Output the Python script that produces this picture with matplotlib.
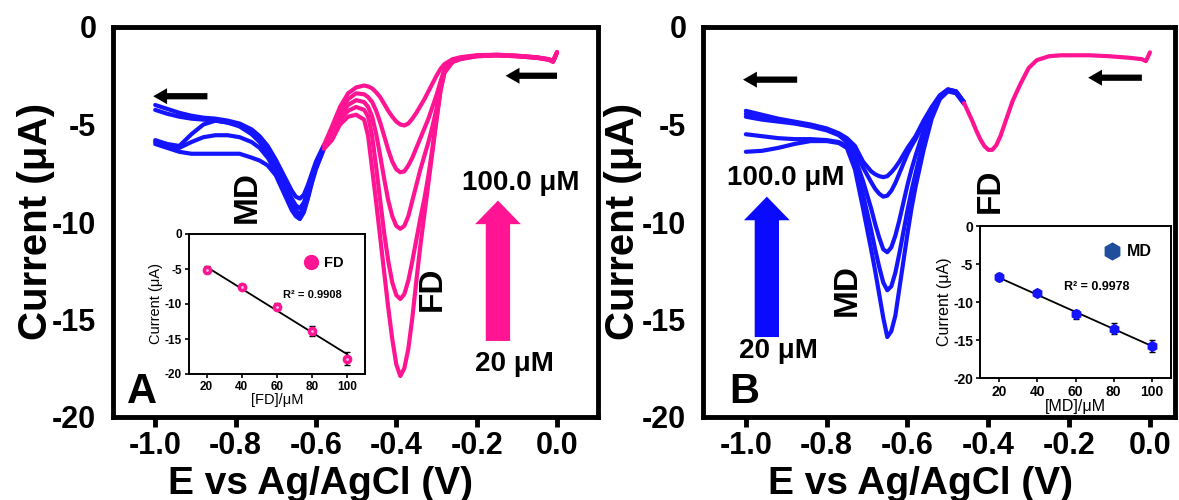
import matplotlib.pyplot as plt
from matplotlib.lines import Line2D

plt.rcParams['font.family'] = ['Liberation Sans', 'DejaVu Sans']
plt.rcParams['font.weight'] = 'bold'
plt.rcParams['axes.unicode_minus'] = False

PINK = '#FF1493'
BLUE = '#1414FF'

# ---- panel A: FD concentration series (MD part blue, FD part pink)
a_blue_x = [-1.00, -0.97, -0.94, -0.91, -0.88, -0.85, -0.82, -0.79, -0.76, -0.74, -0.72,
            -0.70, -0.68, -0.66, -0.65, -0.64, -0.63, -0.62, -0.61, -0.60, -0.58]
a_blue = [
    [-4.0, -4.2, -4.4, -4.55, -4.65, -4.7, -4.8, -4.95, -5.25, -5.6, -6.1, -6.8, -7.6, -8.4, -8.7, -8.8, -8.6, -8.1, -7.5, -6.9, -6.05],
    [-4.25, -4.45, -4.6, -4.7, -4.75, -4.8, -4.9, -5.05, -5.4, -5.75, -6.3, -7.0, -7.9, -8.8, -9.15, -9.3, -9.0, -8.4, -7.7, -7.0, -6.1],
    [-5.8, -6.0, -6.1, -5.5, -5.0, -4.8, -4.9, -5.1, -5.5, -5.9, -6.5, -7.2, -8.1, -9.0, -9.4, -9.6, -9.3, -8.6, -7.8, -7.1, -6.15],
    [-5.9, -6.1, -6.2, -5.9, -5.65, -5.55, -5.55, -5.65, -5.9, -6.2, -6.7, -7.4, -8.3, -9.2, -9.6, -9.75, -9.4, -8.7, -7.9, -7.2, -6.2],
    [-6.0, -6.2, -6.4, -6.5, -6.5, -6.5, -6.5, -6.5, -6.7, -6.85, -7.1, -7.6, -8.5, -9.4, -9.7, -9.85, -9.5, -8.8, -8.0, -7.3, -6.25],
]
a_pink_x = [-0.58, -0.56, -0.54, -0.52, -0.50, -0.48, -0.47, -0.46, -0.45, -0.44, -0.43, -0.42,
            -0.41, -0.40, -0.39, -0.38, -0.37, -0.36, -0.35, -0.34, -0.33, -0.32, -0.31, -0.30,
            -0.29, -0.28, -0.26, -0.24, -0.20, -0.15, -0.10, -0.05, -0.02, -0.01, 0.00]
a_pink = [
    [-6.05, -5.1, -4.1, -3.4, -3.1, -3.0, -3.05, -3.15, -3.35, -3.6, -3.95, -4.3, -4.6, -4.85, -5.0, -5.05, -4.95, -4.7,
     -4.4, -4.05, -3.7, -3.3, -2.9, -2.5, -2.15, -1.9, -1.65, -1.55, -1.45, -1.42, -1.47, -1.55, -1.65, -1.75, -1.3],
    [-6.1, -5.3, -4.35, -3.7, -3.4, -3.45, -3.6, -3.85, -4.3, -4.9, -5.6, -6.3, -6.9, -7.3, -7.45, -7.4, -7.1, -6.7,
     -6.2, -5.7, -5.2, -4.7, -4.1, -3.5, -2.8, -2.15, -1.7, -1.58, -1.47, -1.43, -1.48, -1.56, -1.66, -1.76, -1.3],
    [-6.15, -5.45, -4.55, -4.0, -3.75, -3.85, -4.1, -4.6, -5.5, -6.6, -7.8, -8.9, -9.7, -10.2, -10.35, -10.2, -9.7, -8.9,
     -8.1, -7.3, -6.6, -5.9, -5.1, -4.2, -3.0, -2.2, -1.75, -1.6, -1.48, -1.44, -1.49, -1.57, -1.67, -1.77, -1.3],
    [-6.2, -5.6, -4.75, -4.3, -4.1, -4.25, -4.6, -5.6, -7.2, -8.9, -10.6, -12.0, -13.1, -13.75, -13.95, -13.7, -13.0, -12.0,
     -10.9, -9.8, -8.8, -7.6, -6.2, -4.7, -3.2, -2.3, -1.78, -1.62, -1.5, -1.45, -1.5, -1.58, -1.68, -1.78, -1.3],
    [-6.25, -5.8, -5.0, -4.6, -4.5, -4.75, -5.6, -7.3, -9.0, -10.8, -12.6, -14.4, -16.0, -17.3, -17.9, -17.5, -16.5, -14.9,
     -13.0, -11.2, -9.6, -8.0, -6.4, -4.8, -3.3, -2.35, -1.8, -1.65, -1.5, -1.46, -1.5, -1.58, -1.68, -1.78, -1.3],
]

# ---- panel B: MD concentration series
b_blue_x = [-1.00, -0.96, -0.92, -0.88, -0.84, -0.80, -0.77, -0.75, -0.73, -0.71, -0.69, -0.68, -0.67, -0.66,
            -0.65, -0.64, -0.63, -0.62, -0.61, -0.60, -0.59, -0.58, -0.56, -0.54, -0.52, -0.50, -0.48, -0.46]
b_blue = [
    [-4.3, -4.5, -4.7, -4.85, -5.0, -5.2, -5.45, -5.7, -6.1, -6.9, -7.4, -7.55, -7.65, -7.7, -7.65, -7.45, -7.2, -6.9,
     -6.55, -6.2, -5.9, -5.6, -4.8, -4.1, -3.5, -3.2, -3.3, -3.85],
    [-4.45, -4.6, -4.75, -4.9, -5.05, -5.25, -5.5, -5.8, -6.4, -7.2, -7.95, -8.3, -8.55, -8.7, -8.65, -8.4, -8.0, -7.5,
     -7.0, -6.5, -6.1, -5.75, -4.9, -4.15, -3.55, -3.2, -3.3, -3.85],
    [-4.6, -4.75, -4.85, -4.95, -5.1, -5.3, -5.55, -5.9, -6.7, -7.9, -9.3, -10.1, -10.8, -11.4, -11.55, -11.3, -10.7, -9.9,
     -9.0, -8.1, -7.3, -6.6, -5.3, -4.3, -3.6, -3.25, -3.3, -3.9],
    [-5.5, -5.6, -5.7, -5.75, -5.75, -5.8, -5.9, -6.1, -7.0, -8.6, -10.4, -11.4, -12.3, -13.1, -13.5, -13.3, -12.6, -11.6,
     -10.5, -9.4, -8.4, -7.5, -5.8, -4.5, -3.65, -3.25, -3.35, -3.9],
    [-6.4, -6.35, -6.2, -6.0, -5.85, -5.85, -5.95, -6.2, -7.3, -9.3, -11.4, -12.5, -13.7, -14.9, -15.9, -15.6, -14.8, -13.4,
     -12.0, -10.6, -9.3, -8.2, -6.3, -4.7, -3.7, -3.3, -3.4, -3.95],
]
b_pink_x = [-0.46, -0.44, -0.43, -0.42, -0.41, -0.40, -0.39, -0.38, -0.37, -0.36, -0.35, -0.34, -0.32,
            -0.30, -0.28, -0.25, -0.22, -0.15, -0.10, -0.05, -0.02, -0.01, 0.00]
b_pink = [-3.9, -4.8, -5.3, -5.75, -6.1, -6.3, -6.3, -6.05, -5.6, -5.0, -4.4, -3.8, -2.9,
          -2.1, -1.7, -1.5, -1.45, -1.45, -1.5, -1.58, -1.65, -1.75, -1.3]

# ---- insets (calibration)
conc = [20, 40, 60, 80, 100]
fd_current = [-5.1, -7.5, -10.4, -13.9, -17.8]
fd_err = [0.5, 0.4, 0.5, 0.7, 0.9]
fd_fit = [-4.7, -17.2]
md_current = [-6.7, -8.8, -11.6, -13.5, -15.8]
md_err = [0.5, 0.4, 0.6, 0.7, 0.8]
md_fit = [-6.8, -15.8]
fit_x = [20, 100]

xticks = [-1.0, -0.8, -0.6, -0.4, -0.2, 0.0]
xtick_labels = ['-1.0', '-0.8', '-0.6', '-0.4', '-0.2', '0.0']
yticks = [0, -5, -10, -15, -20]
ytick_labels = ['0', '-5', '-10', '-15', '-20']

W, H = 1179, 500
fig = plt.figure(figsize=(W / 100, H / 100), dpi=100)
axA = fig.add_axes([113 / W, 83 / H, 485 / W, 390 / H])
axB = fig.add_axes([703 / W, 83 / H, 472 / W, 390 / H])


def style_main(ax, xlim):
    ax.set_xlim(*xlim)
    ax.set_ylim(-20, 0)
    for s in ax.spines.values():
        s.set_linewidth(3.5)
    ax.set_xticks(xticks)
    ax.set_xticklabels(xtick_labels)
    ax.set_yticks(yticks)
    ax.set_yticklabels(ytick_labels)
    ax.tick_params(axis='x', direction='out', length=7, width=3.5, labelsize=22, pad=3)
    ax.tick_params(axis='y', length=0, labelsize=22, pad=12)


def black_arrow(ax, tip, tail):
    ax.annotate('', xy=tip, xytext=tail,
                arrowprops=dict(arrowstyle='simple,head_length=1.0,head_width=1.15,tail_width=0.45',
                                fc='black', ec='none', mutation_scale=10, shrinkA=0, shrinkB=0))


def big_arrow(ax, tip, tail, color):
    ax.annotate('', xy=tip, xytext=tail,
                arrowprops=dict(arrowstyle='simple,head_length=1.7,head_width=3.3,tail_width=1.75',
                                fc=color, ec='none', mutation_scale=10, shrinkA=0, shrinkB=0))


# panel A
for yb, yp in zip(a_blue, a_pink):
    axA.plot(a_blue_x, yb, color=BLUE, lw=3.0, solid_capstyle='round')
    axA.plot(a_pink_x, yp, color=PINK, lw=3.0, solid_capstyle='round')
style_main(axA, (-1.105, 0.102))
black_arrow(axA, (-1.005, -3.55), (-0.87, -3.55))
black_arrow(axA, (-0.128, -2.5), (0.0, -2.5))
big_arrow(axA, (-0.147, -8.9), (-0.147, -16.1), PINK)
axA.text(-0.09, -8.0, '100.0 μM', fontsize=20, ha='center', va='center')
axA.text(-0.105, -17.3, '20 μM', fontsize=20, ha='center', va='center')
axA.text(-0.77, -8.7, 'MD', fontsize=24, rotation=90, ha='center', va='center')
axA.text(-0.31, -13.4, 'FD', fontsize=24, rotation=90, ha='center', va='center')
axA.text(0.028, 0.012, 'A', transform=axA.transAxes, fontsize=30, ha='left', va='bottom')

# panel B
for yb in b_blue:
    axB.plot(b_blue_x, yb, color=BLUE, lw=3.0, solid_capstyle='round')
axB.plot(b_pink_x, b_pink, color=PINK, lw=3.0, solid_capstyle='round')
style_main(axB, (-1.106, 0.062))
black_arrow(axB, (-1.007, -2.7), (-0.873, -2.7))
black_arrow(axB, (-0.153, -2.6), (-0.02, -2.6))
big_arrow(axB, (-0.948, -8.7), (-0.948, -15.9), '#0A0AFF')
axB.text(-0.9, -7.75, '100.0 μM', fontsize=20, ha='center', va='center')
axB.text(-0.92, -16.6, '20 μM', fontsize=20, ha='center', va='center')
axB.text(-0.75, -13.5, 'MD', fontsize=24, rotation=90, ha='center', va='center')
axB.text(-0.396, -8.4, 'FD', fontsize=24, rotation=90, ha='center', va='center')
axB.text(0.055, 0.012, 'B', transform=axB.transAxes, fontsize=30, ha='left', va='bottom')

# axis labels
for xc in [36, 623]:
    fig.text(xc / W, 0.557, 'Current (μA)', fontsize=29, rotation=90, ha='center', va='center')
fig.text(320 / W, 0.032, 'E vs Ag/AgCl (V)', fontsize=28, ha='center', va='center')
fig.text(921 / W, 0.032, 'E vs Ag/AgCl (V)', fontsize=28, ha='center', va='center')


def style_inset(ax, fs):
    ax.set_xlim(10, 110)
    ax.set_ylim(-20, 0)
    ax.set_xticks(conc)
    ax.set_yticks(yticks)
    ax.set_yticklabels(ytick_labels)
    for s in ax.spines.values():
        s.set_linewidth(1.4)
    ax.tick_params(direction='out', length=3, width=1.2, labelsize=fs, pad=2)


# inset A
insA = fig.add_axes([189 / W, 1 - 374 / H, 176 / W, 140 / H])
insA.plot(fit_x, fd_fit, color='black', lw=1.3)
insA.errorbar(conc, fd_current, yerr=fd_err, fmt='none', ecolor='black', elinewidth=1.2, capsize=2)
insA.plot(conc, fd_current, 'o', ms=6, mfc=PINK, mec=PINK)
insA.plot(conc, fd_current, 'o', ms=2, mfc='#FFC0DF', mec='none')
style_inset(insA, 8.5)
insA.set_xlabel('[FD]/μM', fontsize=10.5, labelpad=0)
insA.set_ylabel('Current (μA)', fontsize=10.5, labelpad=1)
insA.text(80, -8.7, 'R² = 0.9908', fontsize=8, ha='center', va='center')
insA.legend([Line2D([], [], marker='o', ls='none', ms=10, mfc=PINK, mec=PINK)], ['FD'],
            loc='center left', bbox_to_anchor=(0.6, 0.79), frameon=False, fontsize=10.5,
            handletextpad=0.35, borderpad=0, handlelength=1.2)

# inset B
insB = fig.add_axes([980 / W, 1 - 378 / H, 191 / W, 152 / H])
insB.plot(fit_x, md_fit, color='black', lw=1.3)
insB.errorbar(conc, md_current, yerr=md_err, fmt='none', ecolor='black', elinewidth=1.2, capsize=2)
insB.plot(conc, md_current, 'h', ms=7, mfc=BLUE, mec=BLUE)
style_inset(insB, 10)
insB.set_xlabel('[MD]/μM', fontsize=11.5, labelpad=0)
insB.set_ylabel('Current (μA)', fontsize=11.5, labelpad=1)
insB.text(71, -8.0, 'R² = 0.9978', fontsize=9, ha='center', va='center')
insB.legend([Line2D([], [], marker='h', ls='none', ms=12, mfc='#1F4E9C', mec='#1F4E9C')], ['MD'],
            loc='center left', bbox_to_anchor=(0.6, 0.83), frameon=False, fontsize=11.5,
            handletextpad=0.35, borderpad=0, handlelength=1.2)

fig.savefig('out.png', dpi=100)
